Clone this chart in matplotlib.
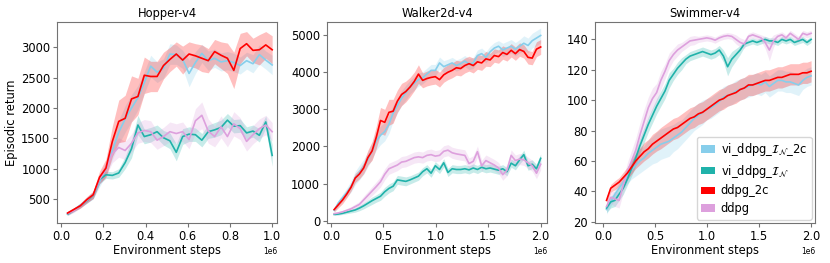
import numpy as np
import matplotlib
matplotlib.use("Agg")
import matplotlib.pyplot as plt
from matplotlib.patches import Patch

# --- evaluation grids (environment steps) ---
hopper_steps = np.linspace(0.03e6, 1.0e6, 33)
long_steps = np.linspace(0.03e6, 2.0e6, 50)

# --- Hopper-v4 ---
hop_vi2c = [260, 320, 400, 480, 560, 780, 1000, 1300, 1600, 1820, 2000, 2170, 2420, 2690, 2590, 2650,
            2890, 2880, 2800, 2570, 2750, 2900, 2780, 2820, 2760, 2780, 2750, 2700, 2780, 2730, 2880, 2790, 2710]
hop_vi2c_sd = [30, 30, 40, 50, 60, 80, 100, 150, 200, 220, 220, 200, 180, 180, 170, 160,
               170, 160, 150, 220, 180, 150, 160, 150, 150, 150, 150, 140, 140, 150, 160, 150, 160]
hop_vi = [250, 320, 390, 470, 560, 820, 900, 890, 930, 1100, 1330, 1720, 1530, 1560, 1610, 1510,
          1460, 1270, 1530, 1570, 1560, 1470, 1610, 1640, 1680, 1800, 1700, 1710, 1590, 1620, 1550, 1770, 1220]
hop_vi_sd = [20, 25, 30, 40, 50, 70, 60, 60, 70, 100, 150, 160, 120, 120, 110, 120,
             130, 140, 130, 120, 110, 110, 110, 120, 120, 110, 110, 110, 100, 100, 110, 100, 180]
hop_2c = [270, 330, 390, 490, 570, 860, 1010, 1450, 1780, 1830, 2150, 2190, 2540, 2520, 2520, 2700,
          2800, 2890, 2790, 2890, 2860, 2820, 2780, 2930, 2870, 2820, 2620, 2980, 3060, 2950, 2960, 3040, 2960]
hop_2c_sd = [30, 30, 40, 50, 60, 100, 150, 250, 350, 380, 380, 300, 300, 250, 250, 220,
             200, 200, 230, 200, 200, 220, 200, 200, 220, 250, 300, 250, 200, 200, 250, 220, 230]
hop_ddpg = [260, 310, 390, 480, 570, 820, 1000, 1250, 1350, 1300, 1420, 1590, 1630, 1610, 1470, 1530,
            1610, 1580, 1610, 1480, 1790, 1880, 1620, 1530, 1690, 1530, 1740, 1660, 1450, 1560, 1660, 1720, 1610]
hop_ddpg_sd = [30, 30, 40, 50, 60, 80, 120, 150, 160, 150, 150, 170, 180, 180, 150, 150,
               160, 160, 160, 150, 200, 220, 200, 170, 180, 170, 200, 180, 160, 150, 160, 160, 150]

# --- Walker2d-v4 ---
wal_vi2c = [280, 480, 620, 760, 920, 1150, 1300, 1450, 1650, 1880, 2150, 2300, 2400, 2600, 2900, 3100,
            3300, 3450, 3600, 3700, 3800, 3850, 3950, 4050, 4050, 4250, 4150, 4200, 4250, 4180, 4230, 4300,
            4220, 4250, 4450, 4500, 4400, 4550, 4650, 4700, 4600, 4650, 4700, 4620, 4700, 4780, 4720, 4850,
            4920, 4990]
wal_vi2c_sd = [60, 80, 100, 120, 150, 180, 200, 200, 200, 220, 250, 250, 250, 250, 220, 200,
               200, 200, 180, 180, 180, 160, 160, 160, 160, 160, 160, 150, 150, 150, 150, 150,
               150, 150, 150, 150, 150, 150, 150, 150, 180, 180, 180, 180, 180, 200, 200, 200,
               200, 200]
wal_vi = [170, 180, 200, 230, 260, 290, 340, 400, 470, 540, 600, 660, 780, 870, 930, 1100,
          1080, 1060, 1100, 1150, 1200, 1320, 1400, 1280, 1480, 1380, 1560, 1300, 1400, 1380, 1380, 1400,
          1370, 1420, 1380, 1440, 1400, 1420, 1390, 1360, 1400, 1320, 1550, 1480, 1640, 1780, 1480, 1520,
          1400, 1680]
wal_vi_sd = [30, 30, 30, 40, 50, 60, 70, 80, 90, 100, 100, 110, 120, 120, 120, 120,
             120, 120, 110, 110, 110, 110, 110, 110, 110, 110, 110, 110, 110, 110, 110, 110,
             110, 110, 110, 110, 110, 110, 110, 110, 110, 110, 110, 110, 110, 120, 120, 120,
             120, 120]
wal_2c = [300, 430, 560, 720, 900, 1150, 1260, 1420, 1700, 1880, 2250, 2700, 2650, 2920, 2950, 3220,
          3400, 3480, 3600, 3750, 3950, 3780, 3830, 3860, 3880, 3800, 3930, 4000, 4050, 4120, 4100, 4180,
          4230, 4180, 4280, 4250, 4360, 4330, 4450, 4420, 4530, 4480, 4590, 4500, 4610, 4560, 4400, 4380,
          4620, 4680]
wal_2c_sd = [60, 80, 100, 100, 100, 120, 130, 150, 200, 250, 300, 350, 350, 350, 320, 300,
             300, 280, 260, 250, 250, 200, 200, 200, 200, 200, 200, 200, 200, 200, 200, 200,
             200, 200, 200, 200, 200, 180, 180, 180, 180, 180, 180, 180, 180, 180, 180, 180,
             200, 200]
wal_ddpg = [190, 210, 240, 280, 320, 380, 440, 560, 680, 800, 920, 1050, 1250, 1400, 1450, 1500,
            1580, 1600, 1650, 1700, 1720, 1700, 1760, 1780, 1740, 1760, 1870, 1900, 1830, 1800, 1780, 1760,
            1540, 1600, 1860, 1480, 1620, 1560, 1500, 1420, 1240, 1360, 1760, 1620, 1660, 1640, 1560, 1480,
            1280, 1520]
wal_ddpg_sd = [30, 30, 40, 50, 60, 70, 80, 100, 110, 120, 130, 140, 150, 150, 150, 150,
               150, 150, 150, 150, 150, 150, 150, 150, 150, 150, 150, 150, 150, 150, 150, 150,
               150, 150, 150, 150, 150, 150, 150, 150, 150, 150, 150, 150, 150, 150, 150, 150,
               150, 150]

# --- Swimmer-v4 ---
swi_vi2c = [28, 33, 38, 42, 46, 50, 54, 57, 60, 62, 65, 67, 69, 71, 72, 73,
            75, 77, 79, 82, 85, 88, 90, 92, 94, 95, 97, 99, 102, 103, 104, 106,
            107, 108, 109, 110, 111, 110, 112, 109, 111, 113, 113, 112, 112, 111, 110, 113,
            115, 116]
swi_vi2c_sd = [3, 3, 3, 3.5, 4, 5, 6, 7, 8, 8, 9, 9, 10, 10, 10, 10,
               9, 9, 8, 8, 8, 8, 8, 8, 7, 7, 7, 7, 7, 7, 7, 7,
               7, 7, 7, 7, 7, 7, 7, 7, 7, 7, 7, 7, 7, 7, 7, 6,
               6, 6]
swi_vi = [29, 33, 34, 38, 42, 48, 55, 62, 70, 77, 84, 90, 96, 101, 106, 113,
          117, 121, 124, 127, 129, 130, 131, 132, 131, 130, 131, 133, 129, 122, 127, 130,
          133, 137, 138, 139, 138, 139, 140, 139, 139, 138, 140, 139, 140, 138, 139, 140,
          138, 140]
swi_vi_sd = [3, 4, 4, 4, 4, 4, 5, 5, 5, 5, 5, 5, 5, 5, 5, 5,
             4, 4, 4, 3, 3, 3, 3, 3, 3, 3, 3, 3, 4, 6, 5, 4,
             3, 2, 2, 2, 2, 2, 2, 2, 2, 2, 2, 2, 2, 2, 2, 2,
             2, 2]
swi_2c = [34, 42, 44, 46, 49, 52, 56, 60, 63, 66, 68, 71, 73, 75, 77, 79,
          81, 82, 84, 86, 88, 89, 91, 92, 94, 96, 98, 100, 101, 103, 104, 105,
          107, 108, 110, 110, 111, 112, 113, 113, 114, 115, 115, 116, 117, 117, 117, 118,
          118, 119]
swi_2c_sd = [2, 2.5, 3, 3, 3.5, 4, 4.5, 5, 5.5, 6, 6, 6.5, 6.5, 7, 7, 7,
             7, 7, 7, 7, 7, 7, 7, 7, 7, 7, 7, 7, 7, 7, 7, 7,
             7, 7, 7, 7, 7, 7, 7, 7, 7, 7, 7, 7, 7, 7, 7, 7,
             7, 7]
swi_ddpg = [30, 36, 35, 34, 44, 53, 60, 67, 77, 86, 95, 101, 105, 113, 119, 126,
            130, 133, 135, 137, 139, 139.5, 140, 140.5, 141, 140.5, 139.5, 141, 142, 142.5, 142, 140,
            138, 137, 142, 143, 142, 141, 138, 133, 139, 142, 143, 141, 144, 142, 140, 144,
            143, 144]
swi_ddpg_sd = [3, 4, 5, 5, 5, 6, 7, 8, 8, 8, 7, 7, 6, 6, 5, 5,
               4, 4, 3, 3, 3, 3, 2, 2, 2, 2, 2, 2, 2, 2, 2, 3,
               3, 3, 2, 2, 2, 2, 4, 7, 4, 2, 2, 2, 2, 2, 2, 2,
               2, 2]

labels = [r"vi_ddpg_$\mathcal{I}_\mathcal{N}$_2c", r"vi_ddpg_$\mathcal{I}_\mathcal{N}$", "ddpg_2c", "ddpg"]
colors = ["skyblue", "lightseagreen", "red", "plum"]

panels = [
    ("Hopper-v4", hopper_steps,
     [(hop_vi2c, hop_vi2c_sd), (hop_vi, hop_vi_sd), (hop_2c, hop_2c_sd), (hop_ddpg, hop_ddpg_sd)],
     (-0.019e6, 1.024e6), (105, 3416), [0.0, 0.2e6, 0.4e6, 0.6e6, 0.8e6, 1.0e6]),
    ("Walker2d-v4", long_steps,
     [(wal_vi2c, wal_vi2c_sd), (wal_vi, wal_vi_sd), (wal_2c, wal_2c_sd), (wal_ddpg, wal_ddpg_sd)],
     (-0.038e6, 2.06e6), (-62, 5350), [0.0, 0.5e6, 1.0e6, 1.5e6, 2.0e6]),
    ("Swimmer-v4", long_steps,
     [(swi_vi2c, swi_vi2c_sd), (swi_vi, swi_vi_sd), (swi_2c, swi_2c_sd), (swi_ddpg, swi_ddpg_sd)],
     (-0.08e6, 2.038e6), (19.1, 151.4), [0.0, 0.5e6, 1.0e6, 1.5e6, 2.0e6]),
]

plt.rcParams["font.size"] = 8.3
fig = plt.figure(figsize=(8.3, 2.63), dpi=100)
lefts = [0.069, 0.394, 0.717]

for k, (title, steps, series, xlim, ylim, xticks) in enumerate(panels):
    ax = fig.add_axes([lefts[k], 0.152, 0.265, 0.764])
    # draw order: blue, teal, plum, red on top
    for j in [0, 1, 3, 2]:
        mean = np.asarray(series[j][0], dtype=float)
        sd = np.asarray(series[j][1], dtype=float)
        ax.fill_between(steps, mean - sd, mean + sd, color=colors[j], alpha=0.25, lw=0)
        ax.plot(steps, mean, color=colors[j], lw=1.2)
    ax.set_xlim(*xlim)
    ax.set_ylim(*ylim)
    ax.set_xticks(xticks)
    ax.ticklabel_format(axis="x", style="sci", scilimits=(0, 0))
    ax.xaxis.get_offset_text().set_fontsize(5.5)
    ax.set_title(title, fontsize=8.3, pad=4)
    ax.set_xlabel("Environment steps", labelpad=1)
    for s in ax.spines.values():
        s.set_color("0.45")
    ax.tick_params(length=3, color="0.45", pad=2)
    if k == 0:
        ax.set_ylabel("Episodic return", labelpad=2)
    if k == 2:
        handles = [Patch(facecolor=c, edgecolor="none") for c in colors]
        ax.legend(handles, labels, loc="lower right", fontsize=8.3, handlelength=1.2,
                  handleheight=0.6, handletextpad=0.5, borderpad=0.4, labelspacing=0.4,
                  borderaxespad=0.3)

fig.savefig("out.png", dpi=100)
